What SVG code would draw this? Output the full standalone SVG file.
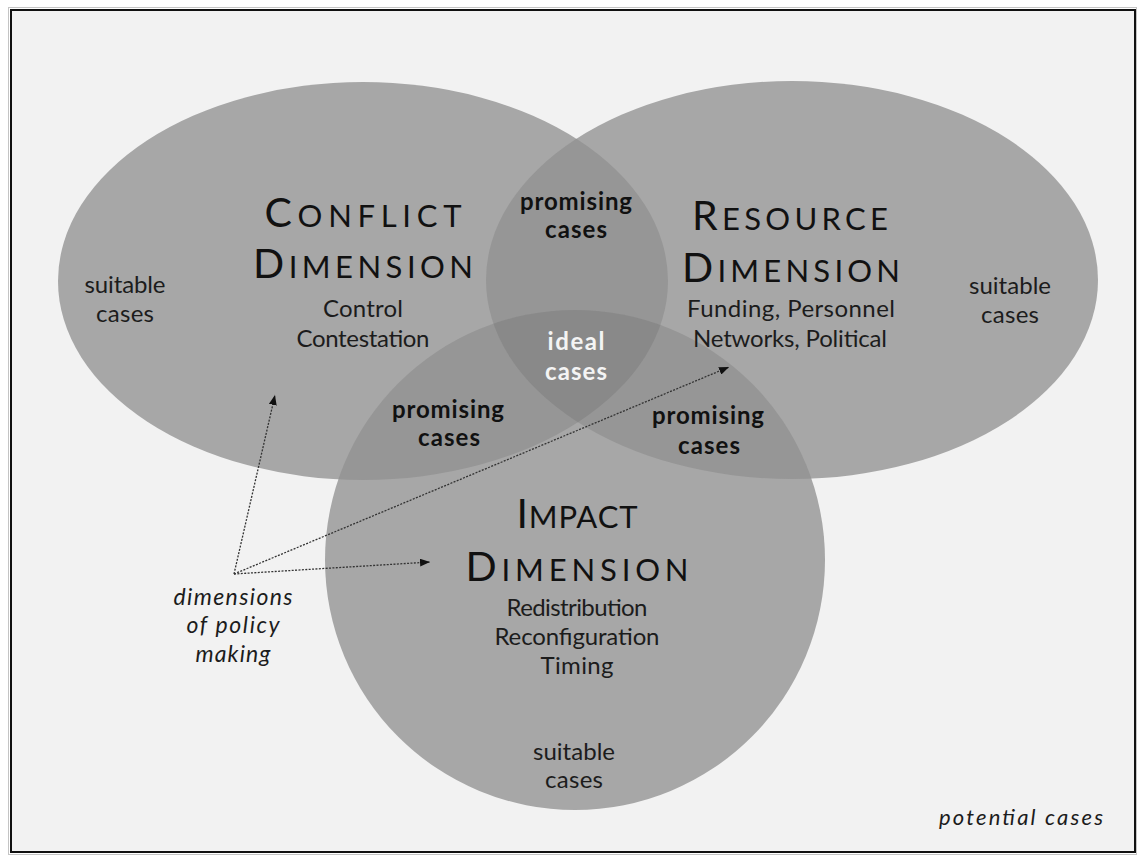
<svg xmlns="http://www.w3.org/2000/svg" width="1137" height="856" viewBox="0 0 1137 856">
<style>
.t{font-family:Lato,"Noto Sans","Liberation Sans",sans-serif;fill:#111;text-anchor:middle}
.sub{font-size:24px;fill:#1c1c1c}
.big{font-size:41px}
.sm{font-size:31px}
.pr{font-size:24px;font-weight:bold}
.it{font-style:italic;font-size:23px;fill:#1c1c1c}
.one{fill:#a7a7a7}
.two{fill:#969696}
.three{fill:#898989}
.arr{fill:none;stroke:#333;stroke-width:1.3;stroke-dasharray:2 1.4;marker-end:url(#ah)}
</style>
<defs>
<marker id="ah" markerWidth="10" markerHeight="8" refX="10" refY="4" orient="auto" markerUnits="userSpaceOnUse"><path d="M0,0 L10,4 L0,8 z" fill="#111"/></marker>
<clipPath id="cL"><ellipse cx="363" cy="281" rx="305" ry="199"/></clipPath>
<clipPath id="cR"><ellipse cx="792" cy="280" rx="306" ry="199"/></clipPath>
<clipPath id="cI"><circle cx="575" cy="560" r="250"/></clipPath>
</defs>
<rect x="0" y="0" width="1137" height="856" fill="#fff"/>
<rect x="8.5" y="7.5" width="1128" height="847" fill="none" stroke="#c4c4c4" stroke-width="1"/>
<rect x="11" y="10" width="1124" height="842" fill="#f2f2f2" stroke="#111" stroke-width="2"/>

<g id="conflict">
<ellipse class="one" cx="363" cy="281" rx="305" ry="199"/>
</g>
<g id="resource">
<ellipse class="one" cx="792" cy="280" rx="306" ry="199"/>
</g>
<g id="impact">
<circle class="one" cx="575" cy="560" r="250"/>
</g>
<g id="overlaps">
<g clip-path="url(#cL)"><ellipse class="two" cx="792" cy="280" rx="306" ry="199"/><circle class="two" cx="575" cy="560" r="250"/></g>
<g clip-path="url(#cR)"><circle class="two" cx="575" cy="560" r="250"/></g>
<g clip-path="url(#cL)"><g clip-path="url(#cR)"><circle class="three" cx="575" cy="560" r="250"/></g></g>
</g>

<g id="conflict-text">
<text class="t" x="363" y="227" textLength="197" lengthAdjust="spacing"><tspan class="big">C</tspan><tspan class="sm">ONFLICT</tspan></text>
<text class="t" x="363" y="278" textLength="220" lengthAdjust="spacing"><tspan class="big">D</tspan><tspan class="sm">IMENSION</tspan></text>
<text class="t sub" x="363" y="317" textLength="80" lengthAdjust="spacing">Control</text>
<text class="t sub" x="363" y="347" textLength="133" lengthAdjust="spacing">Contestation</text>
<text class="t sub" x="125" y="293" textLength="81" lengthAdjust="spacing">suitable</text>
<text class="t sub" x="125" y="322" textLength="58" lengthAdjust="spacing">cases</text>
</g>
<g id="resource-text">
<text class="t" x="790" y="230" textLength="196" lengthAdjust="spacing"><tspan class="big">R</tspan><tspan class="sm">ESOURCE</tspan></text>
<text class="t" x="791" y="282" textLength="218" lengthAdjust="spacing"><tspan class="big">D</tspan><tspan class="sm">IMENSION</tspan></text>
<text class="t sub" x="791" y="317" textLength="208" lengthAdjust="spacing">Funding, Personnel</text>
<text class="t sub" x="790" y="347" textLength="194" lengthAdjust="spacing">Networks, Political</text>
<text class="t sub" x="1010" y="294" textLength="82" lengthAdjust="spacing">suitable</text>
<text class="t sub" x="1010" y="323" textLength="58" lengthAdjust="spacing">cases</text>
</g>
<g id="impact-text">
<text class="t" x="577" y="528" textLength="121" lengthAdjust="spacing"><tspan class="big">I</tspan><tspan class="sm">MPACT</tspan></text>
<text class="t" x="577" y="581" textLength="223" lengthAdjust="spacing"><tspan class="big">D</tspan><tspan class="sm">IMENSION</tspan></text>
<text class="t sub" x="577" y="616" textLength="141" lengthAdjust="spacing">Redistribution</text>
<text class="t sub" x="577" y="645" textLength="165" lengthAdjust="spacing">Reconfiguration</text>
<text class="t sub" x="577" y="674" textLength="73" lengthAdjust="spacing">Timing</text>
<text class="t sub" x="574" y="760" textLength="82" lengthAdjust="spacing">suitable</text>
<text class="t sub" x="574" y="788" textLength="58" lengthAdjust="spacing">cases</text>
</g>
<g id="overlap-text">
<text class="t pr" x="576" y="210" textLength="112" lengthAdjust="spacing">promising</text>
<text class="t pr" x="576" y="238" textLength="62" lengthAdjust="spacing">cases</text>
<text class="t pr" x="576" y="350" style="fill:#f4f4f4" textLength="57" lengthAdjust="spacing">ideal</text>
<text class="t pr" x="576" y="380" style="fill:#f4f4f4" textLength="62" lengthAdjust="spacing">cases</text>
<text class="t pr" x="448" y="418" textLength="112" lengthAdjust="spacing">promising</text>
<text class="t pr" x="449" y="446" textLength="62" lengthAdjust="spacing">cases</text>
<text class="t pr" x="708" y="424" textLength="112" lengthAdjust="spacing">promising</text>
<text class="t pr" x="709" y="454" textLength="62" lengthAdjust="spacing">cases</text>
</g>

<g id="connectors">
<line class="arr" x1="234" y1="574" x2="275" y2="395"/>
<line class="arr" x1="234" y1="574" x2="430" y2="562"/>
<line class="arr" x1="234" y1="574" x2="729" y2="367"/>
</g>
<g id="labels">
<text class="t it" x="233" y="605" textLength="119" lengthAdjust="spacing">dimensions</text>
<text class="t it" x="233" y="633" textLength="93" lengthAdjust="spacing">of policy</text>
<text class="t it" x="233" y="662" textLength="75" lengthAdjust="spacing">making</text>
<text class="t it" x="1021" y="825" style="font-size:22px" textLength="164" lengthAdjust="spacing">potential cases</text>
</g>
</svg>
